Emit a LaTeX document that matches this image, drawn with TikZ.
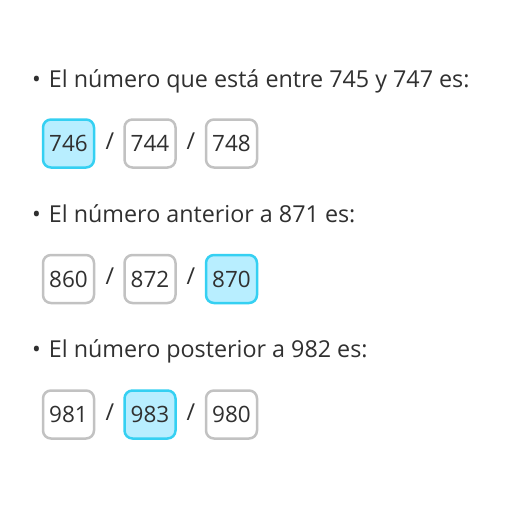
\documentclass[tikz,border=0pt]{standalone}
\usepackage{fontspec}
\setmainfont{Open Sans}
\definecolor{txt}{HTML}{303030}
\definecolor{greyb}{HTML}{C2C2C2}
\definecolor{hifill}{HTML}{B8EEFF}
\definecolor{hiborder}{HTML}{35D0F2}
\tikzset{
  q/.style={anchor=base west, inner sep=0pt, text=txt, font=\fontsize{23.3}{28}\selectfont},
  opt/.style={draw=greyb, line width=2.5pt, rounded corners=8pt, minimum width=51pt, minimum height=48pt, inner sep=0pt, text=txt, fill=white, font=\fontsize{22.5}{27}\selectfont},
  hi/.style={opt, draw=hiborder, fill=hifill},
  sl/.style={inner sep=0pt, text=txt, font=\fontsize{23.3}{28}\selectfont}
}
\begin{document}
\begin{tikzpicture}[x=1pt,y=-1pt]
\useasboundingbox (0,0) rectangle (529,523);
\fill[white] (0,0) rectangle (529,523);
% row 1
\node[q] (q1) at (32,87) {•\hspace{8pt}El número que está entre 745 y 747 es:};
\node[hi] (a1) at (68.5,143.5) {746};
\node[sl] (s1a) at (110,141) {/};
\node[opt] (a2) at (150,143.5) {744};
\node[sl] (s1b) at (191,141) {/};
\node[opt] (a3) at (231.5,143.5) {748};
% row 2
\node[q] (q2) at (32,222) {•\hspace{8pt}El número anterior a 871 es:};
\node[opt] (b1) at (68.5,279) {860};
\node[sl] (s2a) at (110,276.5) {/};
\node[opt] (b2) at (150,279) {872};
\node[sl] (s2b) at (191,276.5) {/};
\node[hi] (b3) at (231.5,279) {870};
% row 3
\node[q] (q3) at (32,357) {•\hspace{8pt}El número posterior a 982 es:};
\node[opt] (c1) at (68.5,414.5) {981};
\node[sl] (s3a) at (110,412) {/};
\node[hi] (c2) at (150,414.5) {983};
\node[sl] (s3b) at (191,412) {/};
\node[opt] (c3) at (231.5,414.5) {980};
\end{tikzpicture}
\end{document}
